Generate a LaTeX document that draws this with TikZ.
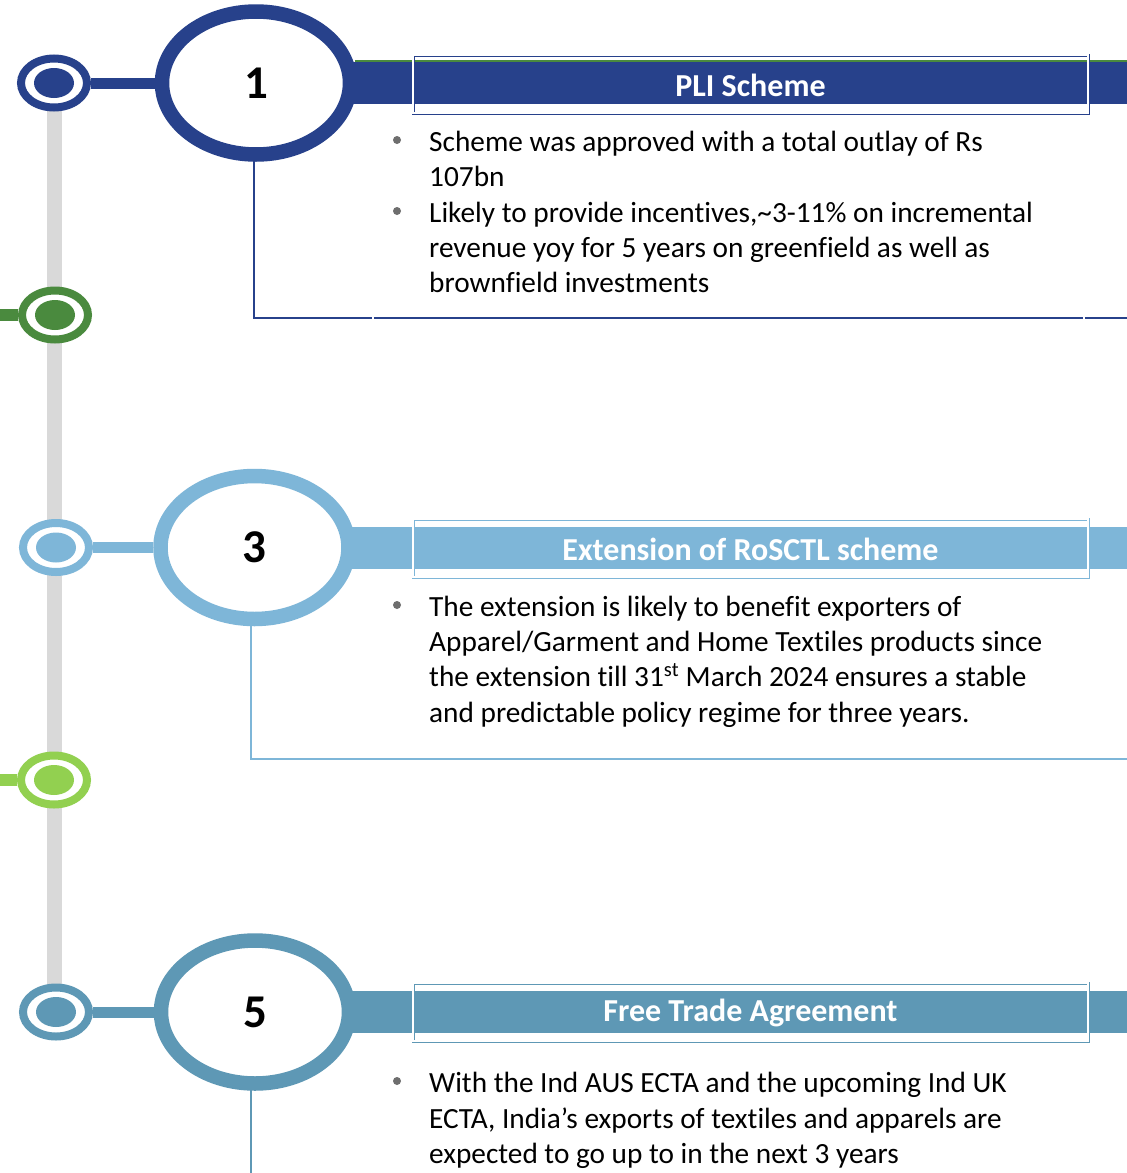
\documentclass[tikz,border=0pt]{standalone}
\usepackage{fontspec}
\setmainfont{Carlito}[Ligatures={NoCommon}]
\usetikzlibrary{shapes.geometric}
\definecolor{cA}{RGB}{39,65,139}
\definecolor{cB}{RGB}{74,138,62}
\definecolor{cC}{RGB}{126,182,216}
\definecolor{cD}{RGB}{146,208,80}
\definecolor{cE}{RGB}{94,152,181}
\definecolor{railgray}{RGB}{217,217,217}
\definecolor{bulletgray}{RGB}{110,110,110}
\begin{document}
\begin{tikzpicture}[x=1pt,y=-1pt,
  bigring/.style={ellipse, draw=#1, line width=14.5pt, fill=white, minimum width=188pt, minimum height=143pt, inner sep=0pt, font=\fontsize{47}{47}\selectfont\bfseries},
  smallring/.style={ellipse, draw=#1, line width=8pt, fill=white, minimum width=66pt, minimum height=49pt, inner sep=0pt},
  innerdot/.style={ellipse, fill=#1, minimum width=40pt, minimum height=30pt, inner sep=0pt},
  stem/.style={draw=#1, line width=11pt},
  headbar/.style={draw=#1, line width=42pt},
  titlebox/.style={draw=#1, double=white, line width=0.9pt, double distance=1.2pt, minimum width=675pt, minimum height=58pt, inner sep=0pt},
  titletext/.style={text=white, font=\fontsize{32}{32}\selectfont\bfseries, inner sep=0pt},
  frameline/.style={draw=#1, line width=2pt},
  bodyline/.style={anchor=base west, inner sep=0pt, font=\fontsize{29.3}{35}\selectfont},
  bulletdot/.style={circle, fill=bulletgray, minimum size=8pt, inner sep=0pt}
]
\useasboundingbox (0,0) rectangle (1127,1173);
\fill[white] (0,0) rectangle (1127,1173);

% rail
\coordinate (railtop) at (54,100);
\coordinate (railbot) at (54,990);
\draw[railgray, line width=15pt] (railtop) -- (railbot);

% ---------- Section 1 ----------
\draw[cB, line width=2.5pt] (355,61.5) -- (1127,61.5);
\coordinate (bar1s) at (300,83);
\coordinate (bar1e) at (1127,83);
\draw[headbar=cA] (bar1s) -- (bar1e);
\node[smallring=cA] (s1) at (54,83) {};
\node[innerdot=cA] (d1) at (54,83) {};
\node[bigring=cA] (b1) at (256,83) {1};
\draw[stem=cA] (s1.east) -- (b1.west);
\node[titlebox=cA] (t1) at (750.5,84) {};
\node[titletext] (tt1) at (750.5,85) {PLI Scheme};
\coordinate (f1a) at (254,160);
\coordinate (f1b) at (254,318);
\coordinate (f1c) at (1127,318);
\draw[frameline=cA] (f1a) -- (f1b) -- (f1c);
\draw[white, line width=2pt] (372.5,316) -- (372.5,320);
\draw[white, line width=2pt] (1083.5,316) -- (1083.5,320);
\node[bulletdot] (p1a) at (397,140) {};
\node[bodyline] (l1a) at (429,151) {Scheme was approved with a total outlay of Rs};
\node[bodyline] (l1b) at (429,186) {107bn};
\node[bulletdot] (p1b) at (397,211) {};
\node[bodyline] (l1c) at (429,222) {Likely to provide incentives,\textasciitilde3-11\% on incremental};
\node[bodyline] (l1d) at (429,257) {revenue yoy for 5 years on greenfield as well as};
\node[bodyline] (l1e) at (429,292) {brownfield investments};

% ---------- Section 2 (green marker) ----------
\node[smallring=cB] (s2) at (55,315) {};
\node[innerdot=cB] (d2) at (55,315) {};
\coordinate (g2) at (0,315);
\draw[cB, line width=12pt] (g2) -- (s2.west);

% ---------- Section 3 ----------
\coordinate (bar3s) at (300,548);
\coordinate (bar3e) at (1127,548);
\draw[headbar=cC] (bar3s) -- (bar3e);
\node[smallring=cC] (s3) at (56,547.5) {};
\node[innerdot=cC] (d3) at (56,547.5) {};
\node[bigring=cC] (b3) at (254.5,547.5) {3};
\draw[stem=cC] (s3.east) -- (b3.west);
\node[titlebox=cC] (t3) at (750.5,548) {};
\node[titletext] (tt3) at (750.5,549) {Extension of RoSCTL scheme};
\coordinate (f3a) at (251,624);
\coordinate (f3b) at (251,759);
\coordinate (f3c) at (1127,759);
\draw[frameline=cC] (f3a) -- (f3b) -- (f3c);
\node[bulletdot] (p3a) at (397,605) {};
\node[bodyline] (l3a) at (429,616) {The extension is likely to benefit exporters of};
\node[bodyline] (l3b) at (429,651) {Apparel/Garment and Home Textiles products since};
\node[bodyline] (l3c) at (429,686) {the extension till 31\textsuperscript{st} March 2024 ensures a stable};
\node[bodyline] (l3d) at (429,722) {and predictable policy regime for three years.};

% ---------- Section 4 (lime marker) ----------
\node[smallring=cD] (s4) at (54,780) {};
\node[innerdot=cD] (d4) at (54,780) {};
\coordinate (g4) at (0,780);
\draw[cD, line width=12pt] (g4) -- (s4.west);

% ---------- Section 5 ----------
\coordinate (bar5s) at (300,1012);
\coordinate (bar5e) at (1127,1012);
\draw[headbar=cE] (bar5s) -- (bar5e);
\node[smallring=cE] (s5) at (56,1012) {};
\node[innerdot=cE] (d5) at (56,1012) {};
\node[bigring=cE] (b5) at (255,1012) {5};
\draw[stem=cE] (s5.east) -- (b5.west);
\node[titlebox=cE] (t5) at (750.5,1012) {};
\node[titletext] (tt5) at (750.5,1013) {Free Trade Agreement};
\coordinate (f5a) at (251,1089);
\coordinate (f5b) at (251,1173);
\draw[frameline=cE] (f5a) -- (f5b);
\node[bulletdot] (p5a) at (397,1081) {};
\node[bodyline] (l5a) at (429,1092) {With the Ind AUS ECTA and the upcoming Ind UK};
\node[bodyline] (l5b) at (429,1128) {ECTA, India’s exports of textiles and apparels are};
\node[bodyline] (l5c) at (429,1163) {expected to go up to in the next 3 years};
\end{tikzpicture}
\end{document}
